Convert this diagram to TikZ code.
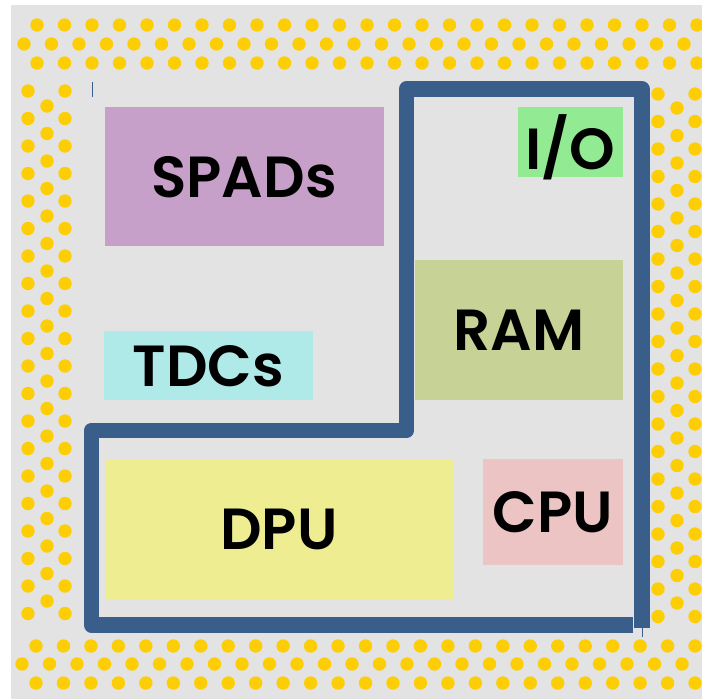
\documentclass[tikz,border=0pt]{standalone}
\usepackage{fontspec}
\setmainfont{Poppins}[BoldFont={Poppins SemiBold}]
\usepackage{xcolor}
\usepackage{tikz}

\definecolor{diegray}{HTML}{E3E3E3}
\definecolor{bumpyellow}{HTML}{FDCD06}
\definecolor{wireblue}{HTML}{3A5E8A}
\definecolor{spadcol}{HTML}{C6A0C8}
\definecolor{tdccol}{HTML}{AFEAE9}
\definecolor{dpucol}{HTML}{EEED92}
\definecolor{iocol}{HTML}{92EA92}
\definecolor{ramcol}{HTML}{C6D296}
\definecolor{cpucol}{HTML}{ECC4C4}

\newcommand{\blockfont}{\bfseries\fontsize{58}{60}\selectfont}

\begin{document}
\begin{tikzpicture}[x=1pt,y=-1pt]
          \useasboundingbox (0,0) rectangle (702,699);
          \fill[diegray] (11,5) rectangle (702,699);

          % solder bumps round the die
          \begin{scope}[every path/.style={fill=bumpyellow}]
            \foreach \k in {0,...,24} {
              \fill (37+27.5*\k,25) circle (6.7pt);
              \fill (24+27.5*\k,44) circle (6.7pt);
              \fill (37+27.5*\k,63) circle (6.7pt);
              \fill (36+27.46*\k,646) circle (6.7pt);
              \fill (22+27.5*\k,664) circle (6.7pt);
              \fill (36+27.46*\k,683) circle (6.7pt);
            }
            \foreach \k in {0,...,19} {
              \fill (28,91+27.5*\k) circle (6.7pt);
              \fill (65,91+27.5*\k) circle (6.7pt);
              \fill (658,94+27.5*\k) circle (6.7pt);
              \fill (695,94+27.5*\k) circle (6.7pt);
            }
            \foreach \k in {0,...,18} {
              \fill (47,106+27.5*\k) circle (6.7pt);
              \fill (677,108+27.5*\k) circle (6.7pt);
            }
          \end{scope}

          % functional blocks
          \begin{scope}[every node/.style={rectangle,inner sep=0pt,text depth=0pt,font=\blockfont}]
            \node[fill=spadcol,minimum width=279pt,minimum height=139pt] (spads) at (244,176.5) {SPADs};
            \node[fill=tdccol,minimum width=209pt,minimum height=69pt] (tdcs) at (208.5,365.5) {TDCs};
            \node[fill=dpucol,minimum width=349pt,minimum height=139pt] (dpu) at (279,529) {DPU};
            \node[fill=iocol,minimum width=105pt,minimum height=70pt] (io) at (570.5,142) {I/O};
            \node[fill=ramcol,minimum width=208pt,minimum height=140pt] (ram) at (519,330) {RAM};
            \node[fill=cpucol,minimum width=140pt,minimum height=106pt] (cpu) at (553,512) {CPU};
          \end{scope}

          % digital domain outline
          \draw[wireblue,line width=15.5pt,line join=round]
            (633,625) -- (91.5,625) -- (91.5,430.5) -- (406.5,430.5)
            -- (406.5,89) -- (642,89) -- (642,628);
          \draw[wireblue,line width=1pt] (92,82) -- (92,97);
          \draw[wireblue,line width=1pt] (642,628) -- (642,637);
        \end{tikzpicture}
\end{document}
